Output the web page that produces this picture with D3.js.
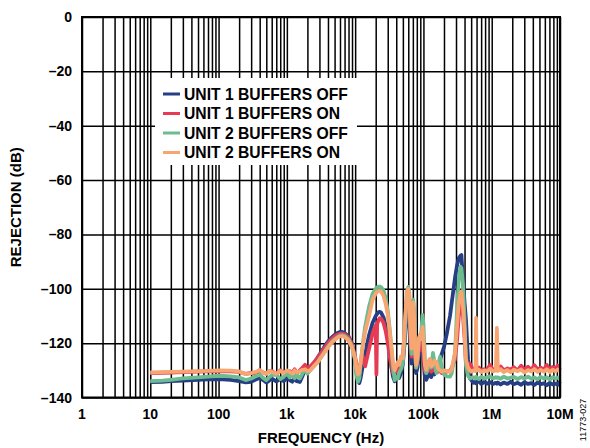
<!DOCTYPE html>
<html>
<head>
<meta charset="utf-8">
<script src="https://cdn.jsdelivr.net/npm/d3@7"></script>
<style>
  body { margin: 0; background: #fff; }
  svg text { font-family: "Liberation Sans", Arial, sans-serif; font-weight: bold; fill: #000; }
</style>
</head>
<body>
<svg id="chart" width="590" height="448"></svg>
<script>
// frequency points (Hz) shared by all four traces
var freq = [10, 15, 20, 30, 50, 70, 100, 150, 200, 250, 300, 350, 400, 450, 500, 550, 600, 700, 800, 900,
  1000, 1100, 1200, 1300, 1400, 1550, 1700, 1850, 2000, 2200, 2500, 2800, 3200, 3600, 4000, 4500, 5000, 5500, 6000, 6500,
  7000, 8000, 9000, 10000, 10500, 11000, 11500, 12000, 13000, 14000, 16000, 18000, 20000, 20500, 21000, 22000, 23000, 24000, 26000, 28000,
  30000, 32000, 34000, 36000, 38000, 40000, 42000, 44000, 47000, 50000, 53000, 56000, 58000, 60000, 62000, 64000, 67000, 69000, 71000, 73000,
  76000, 78000, 82000, 86000, 89000, 93000, 97000, 100000, 105000, 110000, 117000, 124000, 130000, 138000, 145000, 155000, 165000, 175000, 185000, 200000,
  220000, 245000, 260000, 290000, 310000, 330000, 350000, 360000, 380000, 400000, 420000, 450000, 480000, 500000, 540000, 580000, 590000, 600000, 650000, 700000,
  780000, 850000, 950000, 1050000, 1150000, 1190000, 1230000, 1350000, 1500000, 1700000, 1900000, 2100000, 2400000, 2700000, 3000000, 3400000, 3800000, 4200000, 4700000, 5200000,
  5800000, 6400000, 7100000, 7800000, 8600000, 9300000, 10000000];

var unit1Off = [-134.3, -134.2, -134.0, -133.8, -133.5, -133.3, -133.2, -133.5, -134.0, -134.4, -134.2, -133.4, -132.8, -133.6, -134.5, -133.8, -133.0, -134.1, -133.2, -134.0,
  -132.8, -133.6, -134.2, -133.0, -134.0, -134.3, -132.0, -129.5, -130.8, -129.2, -127.5, -125.5, -123.2, -121.0, -119.4, -118.0, -117.0, -116.3, -115.9, -115.9,
  -116.2, -117.5, -120.2, -126.0, -131.0, -133.8, -134.7, -133.0, -128.0, -124.0, -117.0, -112.5, -110.0, -109.6, -109.2, -108.6, -108.5, -108.8, -110.5, -113.5,
  -118.0, -123.5, -129.0, -132.5, -134.0, -133.0, -131.5, -132.8, -131.0, -127.5, -120.0, -110.0, -106.0, -107.0, -112.0, -121.0, -127.5, -120.0, -112.0, -117.0,
  -127.0, -131.0, -129.0, -124.0, -121.0, -124.0, -121.0, -126.0, -132.5, -133.5, -132.0, -131.0, -132.5, -130.5, -131.5, -130.5, -129.0, -126.5, -124.0, -121.5,
  -116.5, -110.0, -105.0, -96.0, -91.5, -88.7, -87.8, -87.6, -96.8, -105.0, -111.5, -126.0, -133.0, -133.5, -134.6, -134.2, -134.8, -134.5, -134.0, -135.0,
  -134.3, -134.9, -134.4, -135.0, -134.6, -134.9, -134.5, -135.2, -134.5, -135.0, -134.2, -135.1, -134.6, -135.3, -134.4, -135.0, -134.7, -135.4, -134.5, -135.1,
  -134.8, -135.5, -134.6, -135.2, -134.9, -135.3, -134.0];

var unit1On = [-131.0, -130.9, -130.8, -130.7, -130.5, -130.4, -130.3, -130.4, -130.6, -131.3, -130.9, -131.4, -130.0, -130.8, -131.2, -130.4, -130.2, -131.5, -130.0, -130.9,
  -131.1, -130.3, -130.9, -129.6, -131.2, -130.0, -129.0, -128.0, -129.4, -128.6, -127.0, -125.5, -123.5, -121.6, -120.0, -118.6, -117.5, -116.9, -116.5, -116.5,
  -116.7, -117.9, -120.6, -125.0, -128.0, -130.0, -129.0, -127.5, -125.0, -128.5, -122.0, -116.5, -113.5, -131.5, -113.0, -111.5, -110.8, -111.0, -112.5, -115.5,
  -119.8, -124.6, -128.5, -131.0, -129.5, -130.5, -128.8, -130.4, -128.0, -125.0, -116.0, -106.5, -103.0, -104.0, -108.0, -118.0, -125.0, -116.0, -108.0, -113.0,
  -124.0, -129.0, -127.0, -121.0, -118.0, -122.5, -119.0, -124.0, -130.0, -131.0, -130.0, -129.0, -130.5, -129.5, -130.0, -129.5, -130.5, -130.0, -131.0, -130.8,
  -130.5, -130.2, -129.0, -126.0, -119.0, -110.0, -105.5, -104.0, -110.0, -118.0, -128.0, -129.0, -127.5, -128.5, -130.0, -129.6, -130.0, -129.8, -129.0, -130.1,
  -129.6, -129.9, -128.0, -130.0, -129.6, -130.0, -129.7, -128.6, -130.0, -129.3, -129.8, -128.8, -130.1, -128.3, -129.8, -128.7, -130.0, -128.1, -129.7, -129.0,
  -129.8, -128.0, -130.0, -128.8, -129.4, -128.2, -129.8];

var unit2Off = [-134.0, -133.8, -133.5, -133.0, -132.6, -132.3, -132.0, -132.2, -132.6, -133.6, -133.0, -132.2, -131.6, -132.8, -133.6, -132.6, -131.8, -131.6, -133.2, -132.4,
  -131.0, -132.6, -131.5, -132.9, -131.8, -133.0, -131.0, -130.0, -131.2, -130.0, -128.4, -127.0, -125.0, -123.0, -121.3, -119.6, -118.6, -117.8, -117.2, -117.1,
  -117.3, -118.6, -121.2, -126.5, -132.0, -134.2, -133.0, -128.0, -120.0, -114.0, -106.5, -101.8, -100.0, -99.7, -99.4, -99.2, -99.2, -99.4, -100.6, -103.5,
  -108.0, -114.5, -122.0, -129.5, -133.6, -132.5, -133.0, -131.0, -129.5, -127.0, -118.0, -106.0, -101.0, -99.3, -101.5, -113.0, -124.0, -110.0, -104.0, -108.0,
  -123.0, -129.0, -126.0, -119.0, -117.5, -116.0, -109.6, -113.0, -126.0, -131.0, -129.0, -127.0, -129.0, -123.6, -127.0, -131.0, -128.0, -125.0, -129.0, -131.5,
  -132.2, -132.3, -131.0, -123.6, -108.0, -96.0, -91.9, -92.5, -98.5, -111.5, -128.0, -132.0, -133.0, -132.8, -132.6, -133.0, -132.4, -132.7, -133.2, -132.4,
  -133.0, -132.6, -132.2, -133.0, -132.5, -132.8, -132.6, -133.1, -132.3, -133.0, -132.7, -132.4, -133.2, -132.5, -133.0, -132.3, -133.1, -132.6, -133.3, -132.4,
  -133.0, -132.6, -133.4, -132.5, -133.0, -132.7, -132.8];

var unit2On = [-130.8, -130.7, -130.6, -130.5, -130.3, -130.2, -130.0, -130.1, -130.4, -131.4, -131.0, -130.6, -129.9, -130.9, -131.3, -130.2, -130.5, -131.3, -130.2, -131.0,
  -130.0, -130.6, -131.2, -130.0, -130.8, -130.3, -129.8, -129.6, -130.3, -130.0, -128.4, -127.2, -125.0, -123.2, -121.6, -120.0, -118.8, -118.0, -117.5, -117.5,
  -117.7, -119.0, -121.5, -125.5, -129.5, -131.5, -131.0, -127.0, -121.0, -115.8, -110.0, -104.0, -101.8, -101.4, -101.1, -100.8, -100.8, -101.1, -102.6, -105.5,
  -109.5, -115.5, -121.5, -127.5, -130.0, -128.5, -127.0, -128.0, -124.8, -125.5, -114.0, -104.5, -100.6, -100.0, -102.0, -112.0, -122.0, -108.5, -105.0, -110.0,
  -123.0, -128.0, -125.0, -118.0, -117.0, -118.5, -114.0, -119.0, -128.0, -129.8, -127.0, -125.8, -128.5, -128.0, -126.5, -127.0, -129.5, -130.0, -130.5, -130.0,
  -130.3, -130.5, -129.5, -123.6, -114.0, -105.0, -101.5, -101.0, -107.0, -115.5, -126.0, -129.0, -130.0, -130.5, -130.0, -130.3, -110.7, -130.0, -129.8, -130.6,
  -130.0, -130.5, -129.4, -130.4, -130.0, -114.4, -130.2, -129.6, -130.6, -129.9, -130.7, -129.8, -130.3, -129.7, -130.8, -129.9, -130.4, -129.5, -130.6, -129.8,
  -130.5, -129.6, -130.7, -129.8, -130.4, -129.7, -130.2];

var seriesNames = ["UNIT 1 BUFFERS OFF", "UNIT 1 BUFFERS ON", "UNIT 2 BUFFERS OFF", "UNIT 2 BUFFERS ON"];
var seriesColors = ["#263e84", "#e63a55", "#6cbc8f", "#f7a571"];
var seriesValues = [unit1Off, unit1On, unit2Off, unit2On];

var xTickValues = [1, 10, 100, 1e3, 1e4, 1e5, 1e6, 1e7];
var xTickLabels = ["1", "10", "100", "1k", "10k", "100k", "1M", "10M"];
var yTickValues = [0, -20, -40, -60, -80, -100, -120, -140];

var svg = d3.select("svg#chart");
var margin = {left: 82, right: 30, top: 17, bottom: 50.5};
var plotWidth = 590 - margin.left - margin.right;
var plotHeight = 448 - margin.top - margin.bottom;

var xScale = d3.scaleLog().domain([1, 1e7]).range([0, plotWidth]);
var yScale = d3.scaleLinear().domain([-140, 0]).range([plotHeight, 0]);

var plot = svg.append("g")
  .attr("transform", "translate(" + margin.left + "," + margin.top + ")");

// every 1..9 per decade
var minorValues = [];
for (var d = 0; d < 7; d++) {
  for (var m = 1; m < 10; m++) {
    minorValues.push(m * Math.pow(10, d));
  }
}
minorValues.push(1e7);

var xGrid = d3.axisBottom(xScale).tickValues(minorValues).tickFormat("").tickSize(-plotHeight);
var yGrid = d3.axisLeft(yScale).tickValues(yTickValues).tickFormat("").tickSize(-plotWidth);

plot.append("g").attr("class", "grid")
  .attr("transform", "translate(0," + plotHeight + ")")
  .call(xGrid);
plot.append("g").attr("class", "grid").call(yGrid);
plot.selectAll(".grid .domain").remove();
plot.selectAll(".grid line").attr("stroke", "#000").attr("stroke-width", 1.5);

// legend box covers the grid
var legend = plot.append("g").attr("transform", "translate(" + (155 - margin.left) + "," + (78 - margin.top) + ")");
legend.append("rect").attr("width", 202).attr("height", 87).attr("fill", "#fff");

var line = d3.line()
  .x(function(v, i) { return xScale(freq[i]); })
  .y(function(v) { return yScale(v); });

plot.selectAll("path.trace")
  .data(seriesValues)
  .enter()
  .append("path")
  .attr("class", "trace")
  .attr("d", line)
  .attr("fill", "none")
  .attr("stroke", function(v, i) { return seriesColors[i]; })
  .attr("stroke-width", 3.8)
  .attr("stroke-linejoin", "round");

plot.append("rect")
  .attr("width", plotWidth).attr("height", plotHeight)
  .attr("fill", "none").attr("stroke", "#000").attr("stroke-width", 2);

seriesNames.forEach(function(name, i) {
  var rowY = 16 + i * 19.5;
  legend.append("line")
    .attr("x1", 8).attr("x2", 25).attr("y1", rowY).attr("y2", rowY)
    .attr("stroke", seriesColors[i]).attr("stroke-width", 3);
  legend.append("text")
    .attr("x", 29).attr("y", rowY + 5.5)
    .style("font-size", "15.7px")
    .text(name);
});

// tick labels
plot.selectAll("text.xlab")
  .data(xTickValues)
  .enter()
  .append("text")
  .attr("class", "xlab")
  .attr("x", function(v) { return xScale(v); })
  .attr("y", plotHeight + 21)
  .attr("text-anchor", "middle")
  .style("font-size", "14px")
  .text(function(v, i) { return xTickLabels[i]; });

plot.selectAll("text.ylab")
  .data(yTickValues)
  .enter()
  .append("text")
  .attr("class", "ylab")
  .attr("x", -10)
  .attr("y", function(v) { return yScale(v) + 5; })
  .attr("text-anchor", "end")
  .style("font-size", "14px")
  .text(function(v) { return v === 0 ? "0" : "\u2013" + Math.abs(v); });

svg.append("text")
  .attr("x", margin.left + plotWidth / 2)
  .attr("y", 443)
  .attr("text-anchor", "middle")
  .style("font-size", "15px")
  .text("FREQUENCY (Hz)");

svg.append("text")
  .attr("transform", "translate(21," + (margin.top + plotHeight / 2) + ") rotate(-90)")
  .attr("text-anchor", "middle")
  .style("font-size", "15px")
  .text("REJECTION (dB)");

svg.append("text")
  .attr("transform", "translate(586,420) rotate(-90)")
  .attr("text-anchor", "middle")
  .style("font-size", "9px")
  .style("font-weight", "normal")
  .text("11773-027");
</script>
</body>
</html>
